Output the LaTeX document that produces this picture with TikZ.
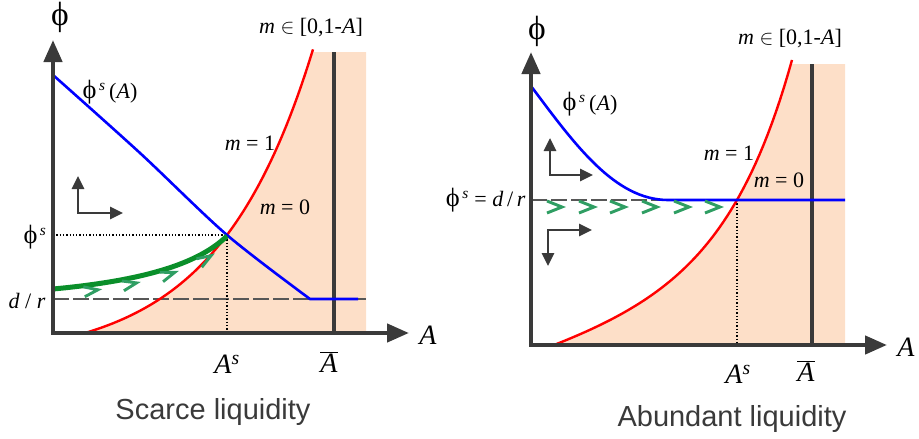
\documentclass[tikz,border=0pt]{standalone}
\usepackage{fontspec}
\setmainfont{Liberation Serif}
\setsansfont{Liberation Sans}
\newfontfamily\phfont[Scale=1.2]{Liberation Serif}
\definecolor{axisgray}{HTML}{3A3A3A}
\definecolor{peach}{HTML}{FDDFC8}
\definecolor{dkgreen}{HTML}{0A8F2A}
\definecolor{chevgreen}{HTML}{2F9E63}
\usetikzlibrary{arrows.meta, positioning, decorations.markings}
\tikzset{
  axisline/.style={axisgray, line width=4.4pt, line join=miter,
    {Triangle[length=22pt,width=18pt]}-{Triangle[length=22pt,width=18pt]}},
  dirarrow/.style={axisgray, line width=2.9pt, line join=miter,
    {Triangle[length=13pt,width=12pt]}-{Triangle[length=13pt,width=12pt]}},
  barline/.style={axisgray, line width=3.3pt},
  dashlevel/.style={axisgray!85, line width=2pt, dash pattern=on 16pt off 4pt},
  guideline/.style={black, line width=1.3pt, dotted},
  lbl/.style={font=\fontsize{22}{24}\selectfont},
  big/.style={font=\fontsize{28}{30}\selectfont},
  caption/.style={font=\sffamily\fontsize{29}{31}\selectfont, text=axisgray},
  chev/.style={chevgreen, line width=2.9pt}
}
\newcommand{\ph}{{\phfont ϕ}}

\begin{document}
\begin{tikzpicture}[x=1pt, y=-1pt]
  \useasboundingbox (0,0) rectangle (919,439);
  % Scarce liquidity
  \fill[peach] plot[domain=85:313, samples=40]
    (\x, {333-28.5*(exp(0.0105*(\x-85))-1)}) -- (313,52) -- (366,52) -- (366,333) -- cycle;
  \draw[dashlevel] (53,299) -- (366,299);
  \draw[barline] (334,52) -- (334,333);
  \draw[guideline] (53,235) -- (227,235) -- (227,333);
  \draw[red, line width=2.4pt] plot[domain=85:313, samples=60]
    (\x, {333-28.5*(exp(0.0105*(\x-85))-1)});
  \draw[blue, line width=2.6pt] plot[smooth] coordinates
    {(53,75) (140,153) (227,235) (310,299)} -- (358,299);
  \draw[dkgreen, line width=5pt, postaction=decorate, decoration={markings,
      mark=at position 0.24 with {\draw[chev] (-14pt,-1pt) -- (0pt,-6pt) -- (-14pt,-11pt);},
      mark=at position 0.45 with {\draw[chev] (-14pt,-1pt) -- (0pt,-6pt) -- (-14pt,-11pt);},
      mark=at position 0.66 with {\draw[chev] (-14pt,-1pt) -- (0pt,-6pt) -- (-14pt,-11pt);},
      mark=at position 0.87 with {\draw[chev] (-14pt,-1pt) -- (0pt,-6pt) -- (-14pt,-11pt);}}]
    (53,289) .. controls (150,280) and (200,262) .. (227,236);
  \draw[axisline] (53,40) -- (53,333) -- (409,333);
  \draw[dirarrow] (78,176) -- (78,213) -- (123,213);
  \node[big] (phiL) at (60,17) {\ph};
  \node[lbl] (rangeL) at (311,28) {\textit{m} $\in$ [0,1-\textit{A}]};
  \node[lbl] (phisAL) at (110,92) {\ph\textsuperscript{\,\textit{s}}\,(\textit{A})};
  \node[lbl] (m1L) at (250,143) {\textit{m} = 1};
  \node[lbl] (m0L) at (285,207) {\textit{m} = 0};
  \node[lbl, anchor=east] (phisL) at (50,237) {\ph\textsuperscript{\,\textit{s}}};
  \node[lbl] (drL) at (27,301) {\textit{d} / \textit{r}};
  \node[big] (AL) at (428,335) {\textit{A}};
  \node[big] (AsL) at (227,364) {\textit{A}\textsuperscript{\textit{s}}};
  \node[big] (AbarL) at (329,362) {$\overline{\textit{A}}$};
  \node[caption] (capL) at (213,412) {Scarce liquidity};
  % Abundant liquidity
  \fill[peach] plot[domain=554:792, samples=50]
    (\x, {345-(0.30*(\x-554)+6.19*(exp(0.015*(\x-554))-1))})
    -- (792,64) -- (845,64) -- (845,345) -- cycle;
  \draw[dashlevel] (531,200) -- (845,200);
  \draw[barline] (812,64) -- (812,345);
  \draw[guideline] (737,200) -- (737,345);
  \draw[red, line width=2.4pt] plot[domain=554:792, samples=60]
    (\x, {345-(0.30*(\x-554)+6.19*(exp(0.015*(\x-554))-1))});
  \draw[blue, line width=2.6pt] (531,86) .. controls (575,145) and (615,200) .. (668,200)
    -- (845,200);
  \foreach \t in {562,594,625,657,689,720}
    \draw[chev] (\t-15,201) -- (\t,207) -- (\t-15,213);
  \draw[axisline] (531,52) -- (531,345) -- (887,345);
  \draw[dirarrow] (550,138) -- (550,175) -- (593,175);
  \draw[dirarrow] (548,266) -- (548,230) -- (592,230);
  \node[big] (phiR) at (537,31) {\ph};
  \node[lbl] (rangeR) at (790,39) {\textit{m} $\in$ [0,1-\textit{A}]};
  \node[lbl] (phisAR) at (590,104) {\ph\textsuperscript{\,\textit{s}}\,(\textit{A})};
  \node[lbl] (m1R) at (729,153) {\textit{m} = 1};
  \node[lbl] (m0R) at (779,180) {\textit{m} = 0};
  \node[lbl, anchor=east] (phisR) at (529,200) {\ph\textsuperscript{\,\textit{s}} = \textit{d}\,/\,\textit{r}};
  \node[big] (AR) at (906,347) {\textit{A}};
  \node[big] (AsR) at (738,374) {\textit{A}\textsuperscript{\textit{s}}};
  \node[big] (AbarR) at (806,371) {$\overline{\textit{A}}$};
  \node[caption] (capR) at (732,419) {Abundant liquidity};
\end{tikzpicture}
\end{document}
